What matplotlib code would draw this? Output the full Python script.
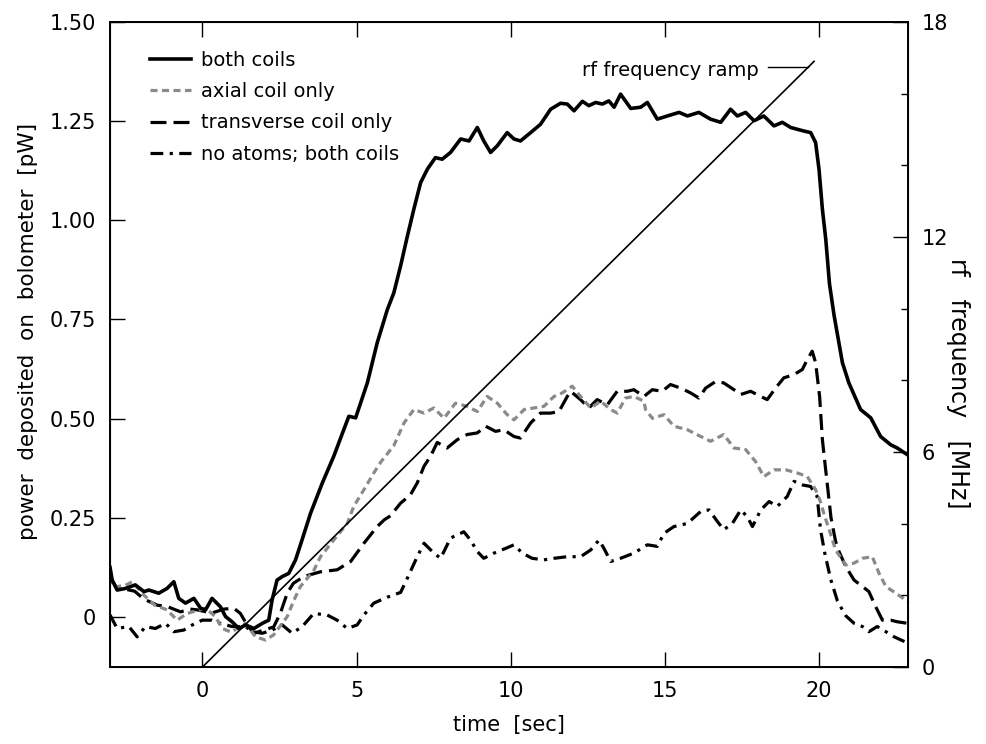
import matplotlib
matplotlib.use('Agg')
from matplotlib import pyplot as plt
from matplotlib.ticker import MultipleLocator, FixedLocator

# ---- data ----
both_t = [-3.0, -2.93, -2.77, -2.5, -2.18, -1.9, -1.74, -1.42, -1.15, -0.93, -0.77, -0.55, -0.28,
          -0.06, 0.1, 0.31, 0.58, 0.75, 0.96, 1.18, 1.4, 1.67, 1.94, 2.15, 2.26, 2.42, 2.59, 2.8,
          3.02, 3.18, 3.51, 3.89, 4.26, 4.75, 4.97, 5.35, 5.67, 6.0, 6.21, 6.43, 6.65, 6.86, 7.08,
          7.3, 7.56, 7.78, 8.05, 8.38, 8.65, 8.92, 9.13, 9.35, 9.57, 9.89, 10.11, 10.32, 10.65,
          10.97, 11.3, 11.62, 11.84, 12.06, 12.33, 12.54, 12.76, 12.98, 13.19, 13.36, 13.57, 13.9,
          14.22, 14.44, 14.76, 15.09, 15.47, 15.74, 16.11, 16.49, 16.82, 17.14, 17.36, 17.63, 17.9,
          18.22, 18.55, 18.82, 19.09, 19.47, 19.74, 19.9, 20.01, 20.12, 20.23, 20.35, 20.5, 20.77,
          20.98, 21.36, 21.69, 22.01, 22.34, 22.55, 22.88]
both_v = [0.125, 0.093, 0.068, 0.072, 0.081, 0.064, 0.068, 0.060, 0.072, 0.089, 0.047, 0.035, 0.047,
          0.022, 0.018, 0.047, 0.026, 0.001, -0.012, -0.029, -0.020, -0.029, -0.016, -0.008, 0.043,
          0.093, 0.102, 0.110, 0.144, 0.182, 0.262, 0.338, 0.405, 0.506, 0.502, 0.590, 0.691, 0.775,
          0.817, 0.885, 0.960, 1.028, 1.095, 1.129, 1.158, 1.154, 1.171, 1.205, 1.200, 1.234, 1.200,
          1.171, 1.188, 1.221, 1.205, 1.200, 1.221, 1.242, 1.280, 1.295, 1.293, 1.276, 1.300, 1.289,
          1.297, 1.293, 1.301, 1.285, 1.318, 1.282, 1.285, 1.297, 1.255, 1.263, 1.272, 1.263, 1.272,
          1.255, 1.247, 1.280, 1.263, 1.272, 1.251, 1.263, 1.238, 1.247, 1.234, 1.226, 1.221, 1.196,
          1.129, 1.028, 0.952, 0.84, 0.76, 0.641, 0.590, 0.523, 0.502, 0.455, 0.434, 0.426, 0.409]

axial_t = [-3.0, -2.9, -2.5, -2.28, -1.9, -1.55, -1.15, -0.82, -0.5, 0.1, 0.42, 0.64, 0.93, 1.4,
           1.72, 2.05, 2.31, 2.53, 2.75, 2.96, 3.18, 3.61, 3.83, 4.26, 4.7, 4.91, 5.24, 5.56, 5.8,
           6.21, 6.54, 6.86, 7.19, 7.51, 7.84, 8.21, 8.59, 8.92, 9.24, 9.57, 9.89, 10.11, 10.44,
           10.76, 11.08, 11.41, 11.68, 12.0, 12.27, 12.6, 12.92, 13.25, 13.46, 13.73, 14.0, 14.33,
           14.38, 14.6, 14.98, 15.3, 15.74, 16.17, 16.49, 16.92, 17.25, 17.63, 17.95, 18.22, 18.55,
           18.93, 19.31, 19.63, 19.9, 20.06, 20.17, 20.34, 20.55, 20.88, 21.15, 21.42, 21.74, 21.96,
           22.18, 22.5, 22.9]
axial_v = [0.10, 0.075, 0.08, 0.089, 0.055, 0.030, 0.018, -0.008, 0.009, 0.022, 0.001, -0.029,
           -0.038, -0.016, -0.050, -0.058, -0.045, -0.022, 0.001, 0.041, 0.077, 0.117, 0.152, 0.194,
           0.236, 0.279, 0.321, 0.363, 0.392, 0.432, 0.489, 0.523, 0.514, 0.527, 0.501, 0.539, 0.531,
           0.518, 0.556, 0.539, 0.510, 0.497, 0.523, 0.527, 0.531, 0.556, 0.565, 0.582, 0.556, 0.527,
           0.544, 0.523, 0.514, 0.552, 0.556, 0.544, 0.523, 0.501, 0.510, 0.481, 0.472, 0.455, 0.443,
           0.460, 0.426, 0.422, 0.392, 0.354, 0.371, 0.371, 0.363, 0.354, 0.321, 0.290, 0.260, 0.220,
           0.169, 0.131, 0.136, 0.148, 0.152, 0.110, 0.077, 0.060, 0.039]

trans_t = [-3.0, -2.8, -2.5, -2.2, -1.9, -1.47, -1.1, -0.71, -0.4, -0.17, 0.3, 0.7, 1.02, 1.23,
           1.45, 1.67, 1.99, 2.31, 2.53, 2.75, 2.95, 3.29, 3.83, 4.37, 4.81, 5.24, 5.67, 5.9, 6.1,
           6.43, 6.75, 6.97, 7.19, 7.4, 7.62, 7.94, 8.27, 8.59, 8.92, 9.19, 9.51, 9.78, 10.11, 10.32,
           10.65, 10.97, 11.3, 11.57, 11.84, 11.95, 12.27, 12.54, 12.81, 13.14, 13.46, 13.79, 14.0,
           14.33, 14.6, 14.92, 15.19, 15.52, 15.84, 16.11, 16.33, 16.66, 16.92, 17.25, 17.47, 17.79,
           18.12, 18.33, 18.6, 18.87, 19.2, 19.47, 19.63, 19.79, 19.9, 20.03, 20.12, 20.2, 20.4,
           20.55, 20.66, 20.88, 21.15, 21.42, 21.63, 21.85, 22.07, 22.34, 22.55, 22.9]
trans_v = [0.10, 0.075, 0.070, 0.065, 0.045, 0.030, 0.025, 0.013, 0.020, 0.018, 0.010, 0.020, 0.022,
           0.009, -0.020, -0.041, -0.033, -0.025, 0.010, 0.060, 0.085, 0.102, 0.114, 0.119, 0.140,
           0.186, 0.228, 0.245, 0.255, 0.287, 0.308, 0.338, 0.380, 0.405, 0.440, 0.426, 0.447, 0.460,
           0.464, 0.481, 0.468, 0.472, 0.455, 0.451, 0.489, 0.514, 0.514, 0.518, 0.556, 0.569, 0.548,
           0.527, 0.548, 0.535, 0.569, 0.569, 0.573, 0.556, 0.573, 0.569, 0.586, 0.577, 0.565, 0.552,
           0.577, 0.594, 0.590, 0.573, 0.561, 0.569, 0.556, 0.548, 0.577, 0.603, 0.611, 0.624, 0.649,
           0.670, 0.641, 0.556, 0.447, 0.390, 0.250, 0.190, 0.165, 0.127, 0.093, 0.077, 0.064, 0.026,
           -0.008, -0.008, -0.012, -0.016]

noatoms_t = [-3.0, -2.77, -2.39, -2.12, -1.85, -1.53, -1.2, -0.93, -0.61, -0.33, -0.01, 0.31, 0.58,
             0.96, 1.4, 1.61, 1.94, 2.26, 2.59, 2.91, 3.24, 3.61, 4.05, 4.37, 4.7, 5.02, 5.24, 5.56,
             6.0, 6.43, 6.65, 6.97, 7.19, 7.51, 7.73, 8.05, 8.38, 8.48, 8.7, 8.92, 9.13, 9.46, 9.84,
             10.11, 10.38, 10.7, 11.08, 11.41, 11.84, 12.27, 12.6, 12.87, 13.03, 13.25, 13.57, 14.0,
             14.44, 14.76, 14.98, 15.3, 15.74, 16.17, 16.44, 16.71, 16.92, 17.2, 17.47, 17.68, 17.85,
             18.12, 18.39, 18.66, 18.98, 19.2, 19.47, 19.74, 19.95, 20.06, 20.2, 20.39, 20.61, 20.88,
             21.15, 21.42, 21.63, 21.9, 22.18, 22.45, 22.9]
noatoms_v = [0.005, -0.029, -0.024, -0.050, -0.024, -0.029, -0.016, -0.037, -0.033, -0.020, -0.008,
             -0.008, -0.016, -0.024, -0.024, -0.037, -0.041, -0.033, -0.020, -0.041, -0.024, 0.009,
             0.005, -0.008, -0.029, -0.020, 0.005, 0.035, 0.050, 0.062, 0.098, 0.152, 0.186, 0.161,
             0.148, 0.199, 0.211, 0.215, 0.194, 0.165, 0.148, 0.161, 0.173, 0.182, 0.161, 0.148,
             0.144, 0.148, 0.152, 0.152, 0.169, 0.194, 0.173, 0.140, 0.148, 0.161, 0.182, 0.178,
             0.211, 0.228, 0.236, 0.266, 0.270, 0.241, 0.220, 0.236, 0.270, 0.253, 0.228, 0.270,
             0.291, 0.279, 0.304, 0.342, 0.333, 0.329, 0.304, 0.220, 0.160, 0.095, 0.040, 0.003,
             -0.016, -0.024, -0.037, -0.024, -0.037, -0.050, -0.066]

ramp_t = [0.0, 19.85]
ramp_f = [0.0, 16.9]

labels = ['both coils', 'axial coil only', 'transverse coil only', 'no atoms; both coils']

# ---- plot ----
plt.rcParams['font.family'] = 'DejaVu Sans'
fig = plt.figure(figsize=(9.87, 7.44), dpi=100)
ax = fig.add_axes([0.1115, 0.1035, 0.8085, 0.867])
ax2 = ax.twinx()

lw = 2.3
ax.plot(noatoms_t, noatoms_v, color='black', lw=lw, dashes=(4, 2, 1, 2), label=labels[3])
ax.plot(trans_t, trans_v, color='black', lw=lw, dashes=(5, 2.2), label=labels[2])
ax.plot(axial_t, axial_v, color='#8a8a8a', lw=lw, dashes=(2.2, 1.4), label=labels[1])
ax.plot(both_t, both_v, color='black', lw=2.6, label=labels[0])

ax2.plot(ramp_t, ramp_f, color='black', lw=1.2)
ax2.plot([18.35, 19.65], [16.75, 16.75], color='black', lw=1.0)
ax2.text(18.05, 16.65, 'rf frequency ramp', ha='right', va='center', fontsize=14)

ax.set_xlim(-3, 22.9)
ax.set_ylim(-0.126, 1.5)
ax2.set_ylim(0, 18)

ax.yaxis.set_major_locator(FixedLocator([0, 0.25, 0.5, 0.75, 1.0, 1.25, 1.5]))
ax.set_yticklabels(['0', '0.25', '0.50', '0.75', '1.00', '1.25', '1.50'])
ax.xaxis.set_major_locator(MultipleLocator(5))
ax2.yaxis.set_major_locator(MultipleLocator(6))
ax2.yaxis.set_minor_locator(MultipleLocator(2))

ax.tick_params(axis='both', direction='in', length=11, width=1, labelsize=15, pad=10,
               top=True, right=False)
ax2.tick_params(axis='y', which='major', direction='in', length=11, width=1, labelsize=15, pad=10)
ax2.tick_params(axis='y', which='minor', direction='in', length=5, width=1)

for s in ax.spines.values():
    s.set_linewidth(1.4)

ax.set_xlabel('time  [sec]', fontsize=15, labelpad=10)
ax.set_ylabel('power  deposited  on  bolometer  [pW]', fontsize=15.5)
ax.yaxis.set_label_coords(-0.09, 0.52)
ax2.set_ylabel('rf   frequency   [MHz]', fontsize=17, rotation=270, va='center')
ax2.yaxis.set_label_coords(1.062, 0.44)

h, l = ax.get_legend_handles_labels()
ax.legend(h[::-1], l[::-1], loc='upper left', bbox_to_anchor=(0.05, 0.955), frameon=False,
          fontsize=14, handlelength=2.1, handletextpad=0.5, labelspacing=0.63, borderpad=0,
          borderaxespad=0)

fig.savefig('out.png', dpi=100)
